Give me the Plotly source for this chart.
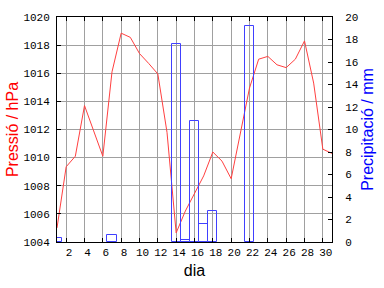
import plotly.graph_objects as go

days = list(range(1, 32))
pressure = [1005.0, 1009.35, 1010.1, 1013.7, 1011.9, 1010.1, 1016.1, 1018.85, 1018.55, 1017.4,
            1016.7, 1015.95, 1011.8, 1004.65, 1006.2, 1007.4, 1008.7, 1010.4, 1009.75, 1008.5,
            1011.7, 1014.95, 1017.0, 1017.2, 1016.6, 1016.4, 1017.0, 1018.3, 1015.3, 1010.6, 1010.3]

rain_days = [1, 7, 14, 15, 16, 17, 18, 22]
rain_mm = [0.4, 0.6, 17.6, 0.2, 10.8, 1.6, 2.77, 19.2]

x_ticks = list(range(2, 31, 2))
p_ticks = list(range(1004, 1021, 2))
r_ticks = list(range(0, 21, 2))

tick_font = dict(family="Liberation Mono", size=11, color="black")

fig = go.Figure()
fig.add_trace(go.Scatter(x=days, y=pressure, mode="lines",
                         line=dict(color="#ff4040", width=1), yaxis="y", showlegend=False))
fig.add_trace(go.Bar(x=rain_days, y=rain_mm, width=1, yaxis="y2",
                     marker=dict(color="rgba(0,0,0,0)", line=dict(color="#4040ff", width=1)),
                     showlegend=False))

fig.update_layout(
    width=384, height=288,
    margin=dict(l=49, r=50, t=14, b=45),
    paper_bgcolor="white", plot_bgcolor="white",
    bargap=0,
    xaxis=dict(range=[1, 31], tickvals=x_ticks, ticks="inside", ticklen=4, tickcolor="black",
               showgrid=True, gridcolor="#a0a0a0", gridwidth=1,
               showline=True, linecolor="black", linewidth=1, mirror="ticks",
               tickfont=tick_font, zeroline=False, ticklabelshift=3,
               title=dict(text="dia", font=dict(family="Liberation Sans", size=16, color="black"),
                          standoff=6)),
    yaxis=dict(range=[1004, 1020], tickvals=p_ticks, ticks="inside", ticklen=4, tickcolor="black",
               showgrid=True, gridcolor="#a0a0a0", gridwidth=1,
               showline=True, linecolor="black", linewidth=1,
               tickfont=tick_font, zeroline=False, ticklabelstandoff=4,
               title=dict(text="Pressió / hPa", font=dict(family="Liberation Sans", size=16, color="#ff0000"),
                          standoff=0)),
    yaxis2=dict(range=[0, 20], tickvals=r_ticks, ticks="inside", ticklen=4, tickcolor="black",
                overlaying="y", side="right", showgrid=False,
                showline=True, linecolor="black", linewidth=1,
                tickfont=tick_font, zeroline=False, ticklabelstandoff=10,
                title=dict(text="Precipitació / mm", font=dict(family="Liberation Sans", size=16, color="#0000ff"),
                           standoff=2)),
)

fig.write_html("out.html")
